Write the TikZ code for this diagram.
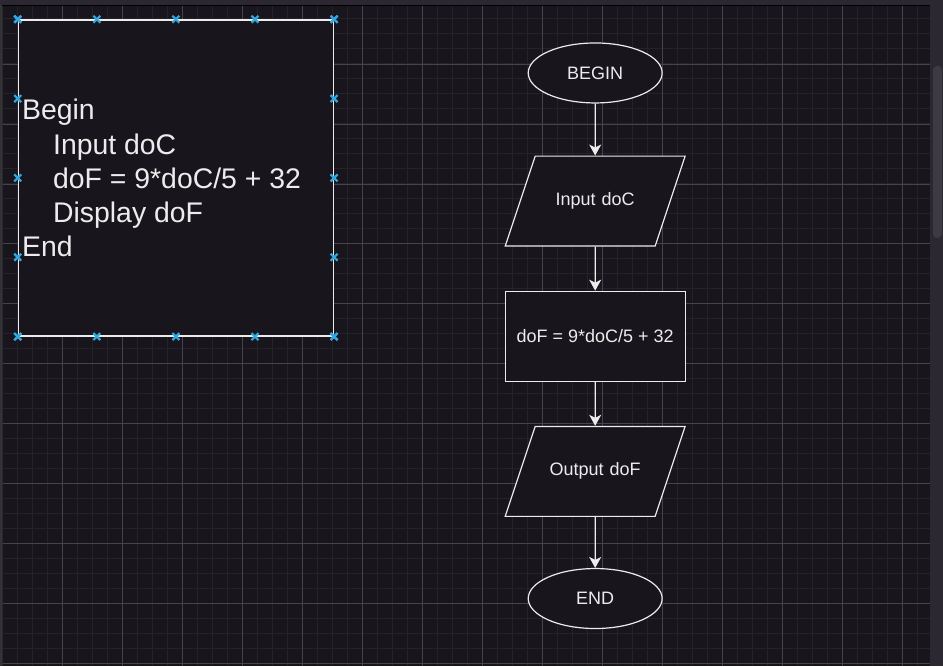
\documentclass[tikz,border=0pt]{standalone}
\usepackage{fontspec}
\setmainfont{Liberation Sans}
\usetikzlibrary{positioning,arrows.meta,calc,shapes.geometric}

\definecolor{canvas}{RGB}{24,21,29}
\definecolor{chrome}{RGB}{44,40,50}
\definecolor{thumb}{RGB}{62,58,68}
\definecolor{gridmin}{RGB}{37,34,42}
\definecolor{gridmaj}{RGB}{70,67,75}
\definecolor{fg}{RGB}{236,236,236}
\definecolor{handle}{RGB}{48,168,226}

\begin{document}
\begin{tikzpicture}[x=1pt, y=-1pt,
    font=\fontsize{18}{21}\selectfont, text=fg,
    term/.style={ellipse, draw=fg, fill=canvas, line width=1.2pt,
                 minimum width=134pt, minimum height=60pt, inner sep=0pt},
    io/.style={trapezium, trapezium left angle=71.57, trapezium right angle=108.43,
               draw=fg, fill=canvas, line width=1.2pt, text width=100pt, align=center,
               text height=13pt, text depth=4pt, inner xsep=10pt, inner ysep=36.5pt},
    proc/.style={rectangle, draw=fg, fill=canvas, line width=1.2pt,
                 minimum width=180pt, minimum height=90pt, inner sep=0pt},
    ar/.style={-{Stealth[length=11pt,width=12pt,inset=3pt]}, line width=1.2pt, fg},
    hdl/.style={line width=2.2pt, handle},
]
% --- window and grid ---
\fill[chrome] (0,0) rectangle (943,666);
\fill[canvas] (3,6) rectangle (930,666);
\draw[black, line width=1pt] (0,5.5) -- (930,5.5);
\draw[black!80, line width=2pt] (1,5) -- (1,666);
\foreach \x in {17,32,...,917}{\draw[gridmin, line width=1pt] (\x,6) -- (\x,666);}
\foreach \y in {19,34,...,664}{\draw[gridmin, line width=1pt] (3,\y) -- (930,\y);}
\foreach \x in {62,122,...,902}{\draw[gridmaj, line width=0.8pt] (\x,6) -- (\x,666);}
\foreach \y in {64,124,...,664}{\draw[gridmaj, line width=0.8pt] (3,\y) -- (930,\y);}
\fill[thumb, rounded corners=4pt] (933,66) rectangle (942,238);

% --- pseudocode box ---
\node[rectangle, draw=fg, fill=canvas, line width=1.5pt, minimum width=315pt,
      minimum height=316pt, inner sep=0pt] (pseudo) at (175.5,178) {};
\node[anchor=north west, align=left, inner sep=0pt, font=\fontsize{28.4}{34.3}\selectfont]
  (code) at (21.5,99) {Begin\\
  \hspace*{31pt}Input doC\\
  \hspace*{31pt}doF = 9*doC/5 + 32\\
  \hspace*{31pt}Display doF\\
  End};
\foreach \t in {0,0.25,0.5,0.75,1}{
  \foreach \a/\b in {north west/north east, south west/south east,
                     north west/south west, north east/south east}{
    \coordinate (h) at ($(pseudo.\a)!\t!(pseudo.\b)$);
    \draw[hdl] ([shift={(-3.5,-3.5)}]h) -- ([shift={(3.5,3.5)}]h)
               ([shift={(-3.5,3.5)}]h) -- ([shift={(3.5,-3.5)}]h);}}

% --- flowchart ---
\node[term] (begin) at (595,73) {BEGIN};
\node[io, below=52pt of begin] (inp) {Input doC};
\node[proc, below=44pt of inp] (calc) {doF = 9*doC/5 + 32};
\node[io, below=44pt of calc] (outp) {Output doF};
\node[term, below=51pt of outp] (end) {END};
\draw[ar] (begin) -- (inp);
\draw[ar] (inp) -- (calc);
\draw[ar] (calc) -- (outp);
\draw[ar] (outp) -- (end);
\end{tikzpicture}
\end{document}
